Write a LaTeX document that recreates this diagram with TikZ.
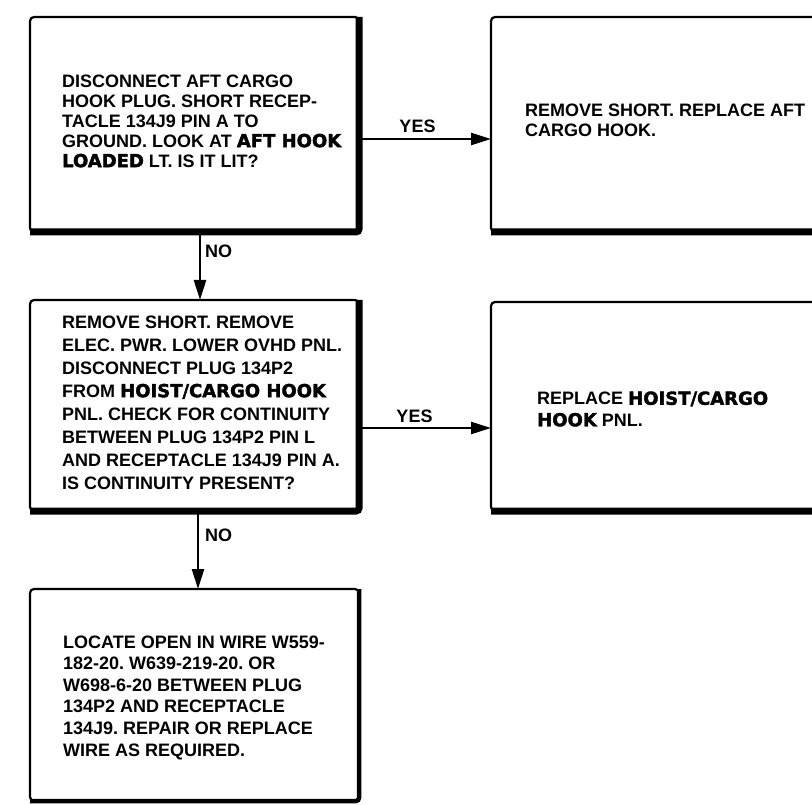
\documentclass[tikz,border=0pt]{standalone}
\usepackage{fontspec}
\setmainfont{Liberation Sans}
\newfontfamily\heavyfont{DejaVu Sans}[FakeBold=2]
\usetikzlibrary{arrows.meta}
\newcommand{\hv}[1]{{\heavyfont\bfseries #1}}
\tikzset{
  box/.style={draw, line width=2.2pt, rounded corners=4pt, inner sep=0pt, outer sep=0pt, anchor=north west},
  shadowline/.style={line width=7pt, rounded corners=3pt},
  txt/.style={align=left, anchor=west, inner sep=0pt, font=\frenchspacing\bfseries\fontsize{18}{20}\selectfont},
  lbl/.style={inner sep=0pt, font=\bfseries\fontsize{18}{20}\selectfont},
  flow/.style={line width=2.5pt, -{Triangle[length=20pt,width=12pt]}},
}
\begin{document}
\begin{tikzpicture}[x=1pt,y=-1pt]
\useasboundingbox (0,0) rectangle (812,805);
\clip (0,0) rectangle (812,805);
% boxes
\node[box, minimum width=329pt, minimum height=215pt] (b1) at (30,17) {};
\node[box, minimum width=340pt, minimum height=215pt] (b2) at (491,17) {};
\node[box, minimum width=329pt, minimum height=211pt] (b3) at (30,300) {};
\node[box, minimum width=340pt, minimum height=209pt] (b4) at (491,302) {};
\node[box, minimum width=329pt, minimum height=212pt] (b5) at (30,589) {};
\draw[shadowline] (b1.north east) -- (b1.south east) -- (b1.south west);
\draw[shadowline] (b2.north east) -- (b2.south east) -- (b2.south west);
\draw[shadowline] (b3.north east) -- (b3.south east) -- (b3.south west);
\draw[shadowline] (b4.north east) -- (b4.south east) -- (b4.south west);
\draw[shadowline, line width=4.5pt] (b5.north east) -- (b5.south east) -- (b5.south west);
% texts
\node[txt] (t1) at (62,121) {DISCONNECT AFT CARGO\\HOOK PLUG. SHORT RECEP-\\TACLE 134J9 PIN A TO\\GROUND. LOOK AT \hv{AFT HOOK}\\\hv{LOADED} LT. IS IT LIT?};
\node[txt] (t2) at (525,120) {REMOVE SHORT. REPLACE AFT\\CARGO HOOK.};
\node[txt, font=\frenchspacing\bfseries\fontsize{18}{23}\selectfont] (t3) at (62,402.5) {REMOVE SHORT. REMOVE\\ELEC. PWR. LOWER OVHD PNL.\\DISCONNECT PLUG 134P2\\FROM \hv{HOIST/CARGO HOOK}\\PNL. CHECK FOR CONTINUITY\\BETWEEN PLUG 134P2 PIN L\\AND RECEPTACLE 134J9 PIN A.\\IS CONTINUITY PRESENT?};
\node[txt, font=\frenchspacing\bfseries\fontsize{18}{21.5}\selectfont] (t4) at (537,409) {REPLACE \hv{HOIST/CARGO}\\\hv{HOOK} PNL.};
\node[txt, font=\frenchspacing\bfseries\fontsize{18}{21.6}\selectfont] (t5) at (63,697.5) {LOCATE OPEN IN WIRE W559-\\182-20. W639-219-20. OR\\W698-6-20 BETWEEN PLUG\\134P2 AND RECEPTACLE\\134J9. REPAIR OR REPLACE\\WIRE AS REQUIRED.};
% connectors
\coordinate (y1) at ([yshift=-14.5pt]b1.east);
\draw[flow] (y1) -- (y1 -| b2.west);
\coordinate (n1) at ([xshift=5.5pt]b1.south);
\draw[flow] (n1) -- (n1 |- b3.north);
\coordinate (y2) at ([yshift=-22.5pt]b3.east);
\draw[flow] (y2) -- (y2 -| b4.west);
\coordinate (n2) at ([xshift=3.5pt]b3.south);
\draw[flow] (n2) -- (n2 |- b5.north);
% labels
\node[lbl] (yes1) at (417.5,126) {YES};
\node[lbl] (yes2) at (414.5,416) {YES};
\node[lbl, anchor=west] (no1) at (205,251) {NO};
\node[lbl, anchor=west] (no2) at (205,535) {NO};
\end{tikzpicture}
\end{document}
